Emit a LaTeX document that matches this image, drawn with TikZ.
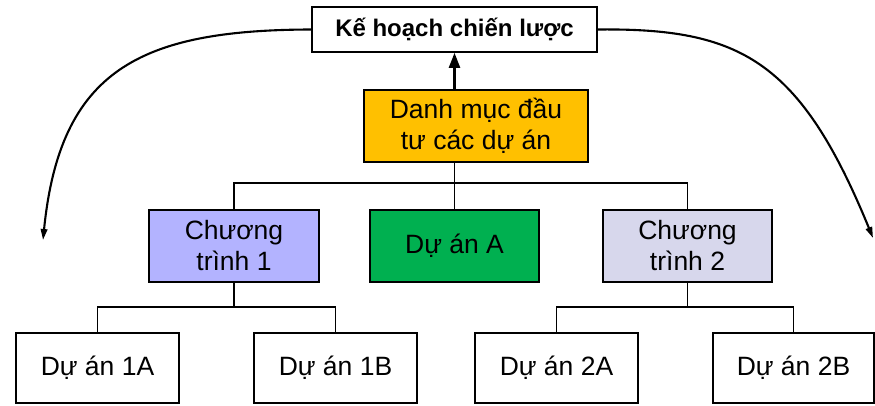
\documentclass[tikz,border=0pt]{standalone}
\usepackage{fontspec}
\setmainfont{Liberation Sans}
\usetikzlibrary{arrows.meta}
\definecolor{goldbox}{RGB}{255,192,0}
\definecolor{progone}{RGB}{179,179,255}
\definecolor{progtwo}{RGB}{215,215,236}
\definecolor{greenbox}{RGB}{0,176,80}
\tikzset{
  boxbase/.style={draw=black, line width=1.7pt, inner sep=0pt, align=center,
    font=\fontsize{26.5}{31}\selectfont},
  conn/.style={line width=1.5pt},
  curvearrow/.style={line width=2.1pt, -{Triangle[length=11pt,width=6.5pt]}},
}
\begin{document}
\begin{tikzpicture}[x=1pt,y=-1pt]
\useasboundingbox (0,0) rectangle (875,406);
% top
\node[boxbase, fill=white, minimum width=285pt, minimum height=45pt,
  font=\fontsize{24}{28}\selectfont\bfseries] (plan) at (454.5,29.5) {Kế hoạch chiến lược};
\node[boxbase, fill=goldbox, minimum width=224pt, minimum height=72pt] (port) at (476,126) {Danh mục đầu\\tư các dự án};
% second row
\node[boxbase, fill=progone, minimum width=170pt, minimum height=72pt] (p1) at (234,246) {Chương\\trình 1};
\node[boxbase, fill=greenbox, minimum width=169pt, minimum height=72pt] (pa) at (454.5,246) {Dự án A};
\node[boxbase, fill=progtwo, minimum width=169pt, minimum height=72pt] (p2) at (687.5,246) {Chương\\trình 2};
% third row
\node[boxbase, fill=white, minimum width=163pt, minimum height=70pt] (a1) at (97.5,368) {Dự án 1A};
\node[boxbase, fill=white, minimum width=163pt, minimum height=70pt] (b1) at (335.5,368) {Dự án 1B};
\node[boxbase, fill=white, minimum width=163pt, minimum height=70pt] (a2) at (556.5,368) {Dự án 2A};
\node[boxbase, fill=white, minimum width=161pt, minimum height=70pt] (b2) at (793.5,368) {Dự án 2B};
% free ends of curved arrows
\coordinate (lend) at (43,240);
\coordinate (rend) at (873,238);
% connectors
\draw[line width=2.4pt, -{Triangle[length=15pt,width=11pt]}] (port.north -| plan.south) -- (plan.south);
\draw[conn] (port.south -| pa.north) -- (pa.north);
\draw[conn] (p1.north) -- (p1.north |- 0,183) -- (p2.north |- 0,183) -- (p2.north);
\draw[conn] (p1.south) -- (p1.south |- 0,307);
\draw[conn] (a1.north) -- (a1.north |- 0,307) -- (b1.north |- 0,307) -- (b1.north);
\draw[conn] (p2.south) -- (p2.south |- 0,307);
\draw[conn] (a2.north) -- (a2.north |- 0,307) -- (b2.north |- 0,307) -- (b2.north);
% curved arrows
\draw[curvearrow] (plan.west) .. controls (140,30) and (60,70) .. (lend);
\draw[curvearrow] (plan.east) .. controls (740,28) and (800,60) .. (rend);
\end{tikzpicture}
\end{document}
